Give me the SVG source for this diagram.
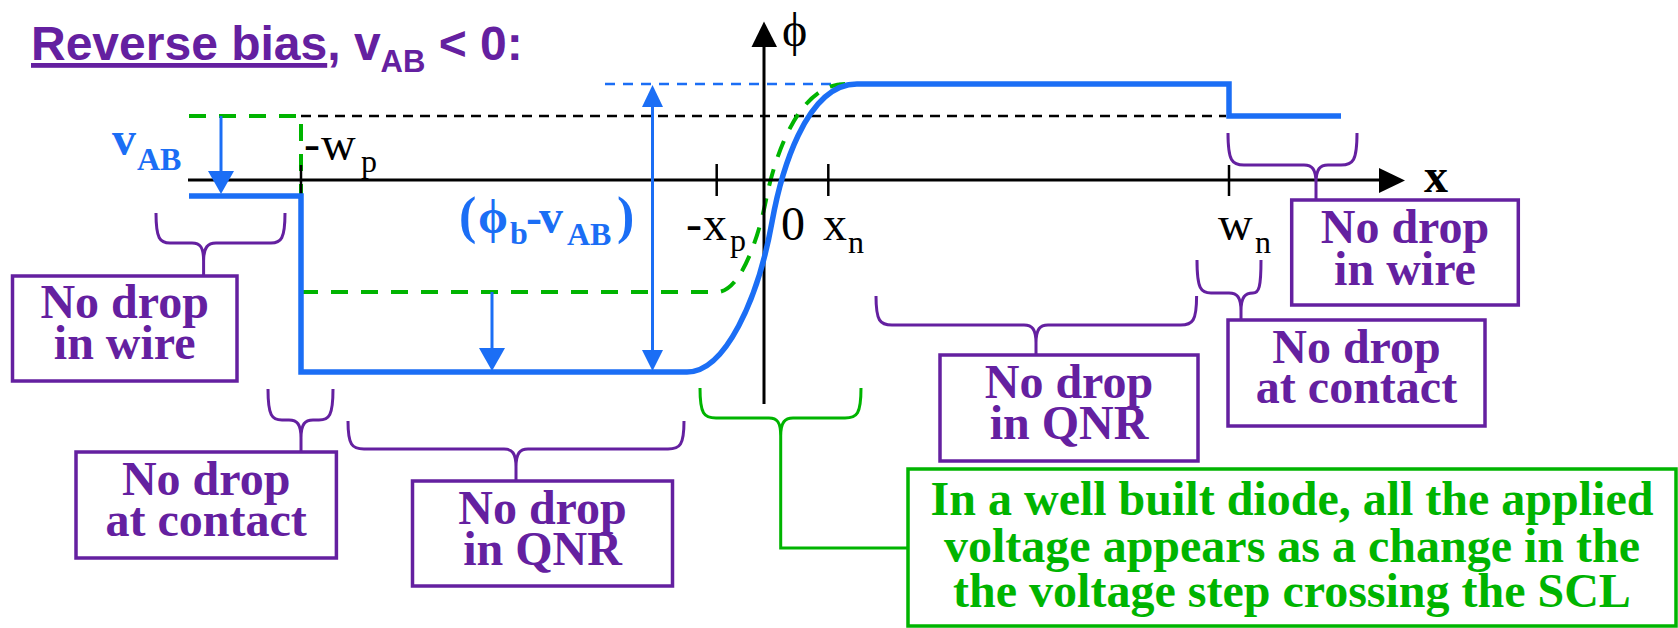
<svg xmlns="http://www.w3.org/2000/svg" width="1678" height="628" viewBox="0 0 1678 628">
<style>
.lbl{font-family:"Liberation Serif","Times New Roman",serif;font-size:48px;fill:#000;}
.sub{font-size:32px;}
.blueb{font-family:"Liberation Serif","Times New Roman",serif;font-weight:bold;font-size:48px;fill:#1b6ef5;}
.box{fill:#fff;stroke:#6420a0;stroke-width:3.5;}
.boxt{font-family:"Liberation Serif","Times New Roman",serif;font-weight:bold;font-size:48px;fill:#6420a0;text-anchor:middle;}
.gbox{fill:#fff;stroke:#00b400;stroke-width:3.5;}
.gt{font-family:"Liberation Serif","Times New Roman",serif;font-weight:bold;font-size:48px;fill:#00b400;text-anchor:middle;}
.brace{fill:none;stroke:#6420a0;stroke-width:3;}
.gbrace{fill:none;stroke:#00b400;stroke-width:3;}
.axis{stroke:#000;stroke-width:3;fill:none;}
.tick{stroke:#000;stroke-width:2.5;}
.bdash{stroke:#000;stroke-width:2.5;stroke-dasharray:10 7;fill:none;}
.bluedash{stroke:#1b6ef5;stroke-width:2.5;stroke-dasharray:10 8;fill:none;}
.gdash{stroke:#00b400;stroke-width:4;stroke-dasharray:17 13;fill:none;}
.bluecurve{stroke:#1b6ef5;stroke-width:5.5;fill:none;}
.barrow{stroke:#1b6ef5;stroke-width:3;fill:none;}
</style>

<g id="title">
<text x="31" y="60" font-family="'Liberation Sans',Arial,sans-serif" font-weight="bold" font-size="48" fill="#6420a0"><tspan text-decoration="underline">Reverse bias</tspan>, v<tspan font-size="31" dy="12">AB</tspan><tspan dy="-12"> &lt; 0:</tspan></text>
</g>

<g id="plot">
<line class="bdash" x1="301" y1="116" x2="1226" y2="116"/>
<line class="bluedash" x1="605" y1="84" x2="857" y2="84"/>
<path class="gdash" d="M189 116 L301 116 L301 196"/>
<path class="gdash" d="M301 292 L717 292 C740 292 758 240 766 200 C775.6 152 800 84 845 84"/>
<line class="axis" x1="188" y1="180" x2="1382" y2="180"/>
<polygon points="1379,168 1379,193 1405,180.5" fill="#000"/>
<line class="axis" x1="764" y1="404" x2="764" y2="44"/>
<polygon points="751.5,47 777,47 764,21.5" fill="#000"/>
<line class="tick" x1="301" y1="165" x2="301" y2="197"/>
<line class="tick" x1="716.7" y1="164" x2="716.7" y2="196"/>
<line class="tick" x1="828.3" y1="164" x2="828.3" y2="196"/>
<line class="tick" x1="1229" y1="165" x2="1229" y2="196"/>
<path class="bluecurve" d="M189 196 L301 196 L301 372 L687 372 C725 372 758 300 772 222 C780.4 175.2 805 84 857 84 L1229 84 L1229 116 L1341 116"/>
<line class="barrow" x1="221" y1="116" x2="221" y2="173"/>
<polygon points="208,171 234,171 221,194" fill="#1b6ef5"/>
<line class="barrow" x1="492" y1="292" x2="492" y2="350"/>
<polygon points="479,348 505,348 492,371" fill="#1b6ef5"/>
<line class="barrow" x1="652.5" y1="105" x2="652.5" y2="352" stroke-width="2.5"/>
<polygon points="642,107 663,107 652.5,85" fill="#1b6ef5"/>
<polygon points="642,350 663,350 652.5,371" fill="#1b6ef5"/>
<text class="lbl" x="782" y="46" font-size="54">ϕ</text>
<text class="lbl" x="1424" y="192" font-weight="bold">x</text>
<text class="lbl"><tspan x="304" y="160">-</tspan><tspan x="321" y="160">w</tspan><tspan class="sub" x="361" y="172">p</tspan></text>
<text class="lbl"><tspan x="686" y="240">-</tspan><tspan x="703" y="240">x</tspan><tspan class="sub" x="730" y="251">p</tspan></text>
<text class="lbl" x="781" y="240">0</text>
<text class="lbl"><tspan x="823" y="240">x</tspan><tspan class="sub" x="848" y="253">n</tspan></text>
<text class="lbl"><tspan x="1218" y="240">w</tspan><tspan class="sub" x="1255" y="253">n</tspan></text>
<text class="blueb"><tspan x="112" y="155">v</tspan><tspan font-size="32" x="137" y="170">AB</tspan></text>
<text class="blueb"><tspan x="459" y="233" font-size="52">(</tspan><tspan x="478" y="233">ϕ</tspan><tspan font-size="32" x="510" y="244">b</tspan><tspan x="526" y="233">-</tspan><tspan x="539" y="233">v</tspan><tspan font-size="32" x="567" y="245">AB</tspan><tspan x="617" y="233" font-size="52">)</tspan></text>
</g>

<g id="connectors">
<path class="brace" d="M156 213 C156 239 160 243 170 243 L192 243 C200 243 203.6 247 203.6 261 L203.6 276 M285 213 C285 239 281 243 271 243 L216 243 C208 243 203.6 247 203.6 261"/>
<path class="brace" d="M268 389 C268 416 272 420 282 420 L289 420 C297 420 301 424 301 438 L301 452 M333 389 C333 416 329 420 319 420 L313 420 C305 420 301 424 301 438"/>
<path class="brace" d="M348 421 C348 445 352 449 364 449 L504 449 C512 449 516 453 516 467 L516 481 M684 421 C684 445 680 449 668 449 L528 449 C520 449 516 453 516 467"/>
<path class="brace" d="M876 296 C876 321 880 325 892 325 L1024 325 C1032 325 1036 329 1036 343 L1036 355 M1196.6 296 C1196.6 321 1192.6 325 1180.6 325 L1048 325 C1040 325 1036 329 1036 343"/>
<path class="brace" d="M1197 260 C1197 289 1201 293 1211 293 L1229 293 C1237 293 1241 297 1241 311 L1241 320 M1261 260 C1261 287 1259 293 1253 293 C1245 293 1241 297 1241 311"/>
<path class="brace" d="M1228 133 C1228 161 1232 165 1244 165 L1304 165 C1312 165 1316 169 1316 183 L1316 200 M1357 133 C1357 161 1353 165 1341 165 L1328 165 C1320 165 1316 169 1316 183"/>
<path class="gbrace" d="M700 388 C700 414 704 418 716 418 L769 418 C777 418 780.7 422 780.7 436 L780.7 548 L908 548 M861 388 C861 414 857 418 845 418 L793 418 C785 418 780.7 422 780.7 436"/>
</g>

<g id="box-wire-left">
<rect class="box" x="12.5" y="276" width="224.5" height="105"/>
<text class="boxt"><tspan x="124.7" y="318">No drop</tspan><tspan x="124.7" y="359">in wire</tspan></text>
</g>
<g id="box-contact-left">
<rect class="box" x="76" y="452" width="260.4" height="106"/>
<text class="boxt"><tspan x="206.2" y="495">No drop</tspan><tspan x="206.2" y="536">at contact</tspan></text>
</g>
<g id="box-qnr-left">
<rect class="box" x="412.5" y="481" width="260" height="105"/>
<text class="boxt"><tspan x="542.5" y="524">No drop</tspan><tspan x="542.5" y="565">in QNR</tspan></text>
</g>
<g id="box-qnr-right">
<rect class="box" x="940" y="355" width="258" height="106"/>
<text class="boxt"><tspan x="1069" y="398">No drop</tspan><tspan x="1069" y="439">in QNR</tspan></text>
</g>
<g id="box-contact-right">
<rect class="box" x="1228" y="320" width="257" height="106"/>
<text class="boxt"><tspan x="1356.5" y="363">No drop</tspan><tspan x="1356.5" y="403">at contact</tspan></text>
</g>
<g id="box-wire-right">
<rect class="box" x="1291.7" y="200" width="226.6" height="105"/>
<text class="boxt"><tspan x="1405" y="243">No drop</tspan><tspan x="1405" y="285">in wire</tspan></text>
</g>
<g id="box-scl-note">
<rect class="gbox" x="908" y="469" width="768" height="157"/>
<text class="gt"><tspan x="1292" y="515">In a well built diode, all the applied</tspan><tspan x="1292" y="561.5">voltage appears as a change in the</tspan><tspan x="1292" y="607">the voltage step crossing the SCL</tspan></text>
</g>
</svg>
